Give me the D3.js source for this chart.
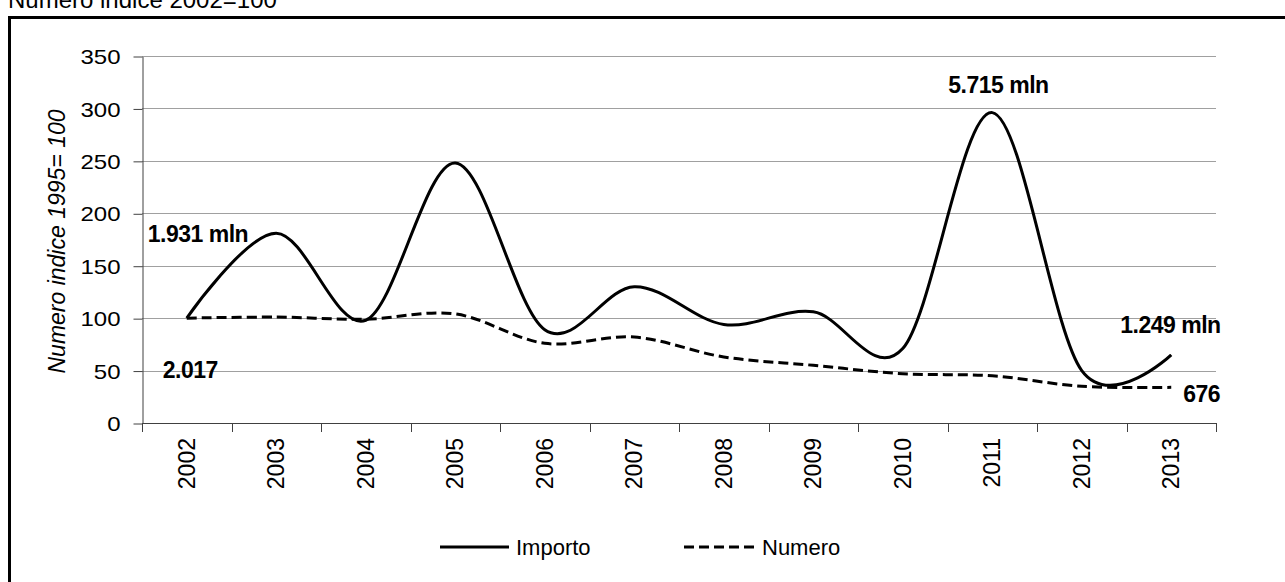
<!DOCTYPE html>
<html>
<head>
<meta charset="utf-8">
<script src="https://cdn.jsdelivr.net/npm/d3@7"></script>
<style>
  body { margin: 0; background: #fff; }
  svg { display: block; font-family: "Liberation Sans", Arial, sans-serif; }
</style>
</head>
<body>
<div id="chart"></div>
<script>
// dati
const years = ["2002", "2003", "2004", "2005", "2006", "2007", "2008", "2009", "2010", "2011", "2012", "2013"];
const importo = [100, 181, 98, 248, 89, 130, 94, 106, 71, 296, 50, 65];
const numero = [100, 101, 99, 104, 76, 82, 63, 55, 47, 45, 35, 34];
const yTicks = [0, 50, 100, 150, 200, 250, 300, 350];

// annotazioni: serie, anno, testo, offset
const notes = [
    { series: "importo", year: "2002", text: "1.931 mln", dx: -39, dy: -76 },
    { series: "numero", year: "2002", text: "2.017", dx: -24, dy: 60 },
    { series: "importo", year: "2011", text: "5.715 mln", dx: -44, dy: -20 },
    { series: "importo", year: "2013", text: "1.249 mln", dx: -51, dy: -22 },
    { series: "numero", year: "2013", text: "676", dx: 12, dy: 15 }
];

const W = 1285, H = 582;
const plot = { left: 142, right: 1216, top: 56, bottom: 423 };

const svg = d3.select("#chart").append("svg")
    .attr("width", W)
    .attr("height", H);

// titolo (tagliato in alto come nell'originale)
svg.append("text")
    .attr("x", 8).attr("y", 8)
    .style("font-size", "24px")
    .text("Numero indice 2002=100");

// cornice
svg.append("rect")
    .attr("x", 9.5).attr("y", 17.5)
    .attr("width", 1400).attr("height", 700)
    .style("fill", "none")
    .style("stroke", "#000")
    .style("stroke-width", 3);

const x = d3.scaleBand().domain(years).range([plot.left, plot.right]);
const y = d3.scaleLinear().domain([0, 350]).range([plot.bottom, plot.top]);
const cx = d => x(d) + x.bandwidth() / 2;

// griglia
svg.append("g")
    .selectAll("line")
    .data(yTicks.filter(t => t > 0))
    .enter().append("line")
    .attr("x1", plot.left).attr("x2", plot.right)
    .attr("y1", d => Math.round(y(d)) + 0.5)
    .attr("y2", d => Math.round(y(d)) + 0.5)
    .style("stroke", "#a0a0a0")
    .style("stroke-width", 1);

// asse y
const yAxis = svg.append("g")
    .attr("transform", `translate(${plot.left + 0.5},0.5)`)
    .call(d3.axisLeft(y).tickValues(yTicks).tickSize(9).tickSizeOuter(0));
yAxis.select(".domain").style("stroke", "#404040");
yAxis.selectAll(".tick line").style("stroke", "#404040");
yAxis.selectAll(".tick text")
    .attr("x", 0)
    .attr("dy", "0.36em")
    .attr("transform", "translate(-22,0) scale(1.2,1)")
    .style("font-size", "20px")
    .style("fill", "#000")
    .style("font-family", "Liberation Sans, Arial, sans-serif");

// asse x con tacche ai bordi delle categorie
const xg = svg.append("g");
xg.append("line")
    .attr("x1", plot.left).attr("x2", plot.right)
    .attr("y1", plot.bottom + 0.5).attr("y2", plot.bottom + 0.5)
    .style("stroke", "#404040");
const bounds = years.map(d => x(d)).concat([plot.right]);
xg.selectAll(".xt")
    .data(bounds)
    .enter().append("line")
    .attr("class", "xt")
    .attr("x1", d => Math.round(d) + 0.5).attr("x2", d => Math.round(d) + 0.5)
    .attr("y1", plot.bottom).attr("y2", plot.bottom + 9)
    .style("stroke", "#404040");
xg.selectAll(".xl")
    .data(years)
    .enter().append("text")
    .attr("class", "xl")
    .attr("transform", d => `translate(${cx(d)},${plot.bottom + 15}) rotate(-90)`)
    .attr("dy", "0.35em")
    .attr("text-anchor", "end")
    .style("font-size", "23px")
    .text(d => d);

// titolo asse y
svg.append("text")
    .attr("transform", `translate(57,${(plot.top + plot.bottom) / 2 + 2}) rotate(-90)`)
    .attr("text-anchor", "middle")
    .attr("dy", "0.35em")
    .style("font-size", "23px")
    .style("font-style", "italic")
    .text("Numero indice 1995= 100");

// linee smussate
const line = d3.line()
    .x((d, i) => cx(years[i]))
    .y(d => y(d))
    .curve(d3.curveCardinal.tension(0));

svg.append("path")
    .datum(numero)
    .attr("d", line)
    .style("fill", "none")
    .style("stroke", "#000")
    .style("stroke-width", 3)
    .style("stroke-dasharray", "10,5");

svg.append("path")
    .datum(importo)
    .attr("d", line)
    .style("fill", "none")
    .style("stroke", "#000")
    .style("stroke-width", 3);

// annotazioni
const seriesData = { importo, numero };
svg.selectAll(".note")
    .data(notes)
    .enter().append("text")
    .attr("class", "note")
    .attr("x", d => cx(d.year) + d.dx)
    .attr("y", d => y(seriesData[d.series][years.indexOf(d.year)]) + d.dy)
    .style("font-size", "23px")
    .style("font-weight", "bold")
    .style("letter-spacing", "-0.5px")
    .text(d => d.text);

// legenda
const legend = [
    { name: "Importo", x1: 440, x2: 509, dash: null },
    { name: "Numero", x1: 684, x2: 755, dash: "10,5" }
];
const lg = svg.append("g");
legend.forEach(l => {
    lg.append("line")
        .attr("x1", l.x1).attr("x2", l.x2)
        .attr("y1", 547).attr("y2", 547)
        .style("stroke", "#000")
        .style("stroke-width", 3)
        .style("stroke-dasharray", l.dash);
    lg.append("text")
        .attr("x", l.x2 + 7).attr("y", 555)
        .style("font-size", "22px")
        .text(l.name);
});
</script>
</body>
</html>
